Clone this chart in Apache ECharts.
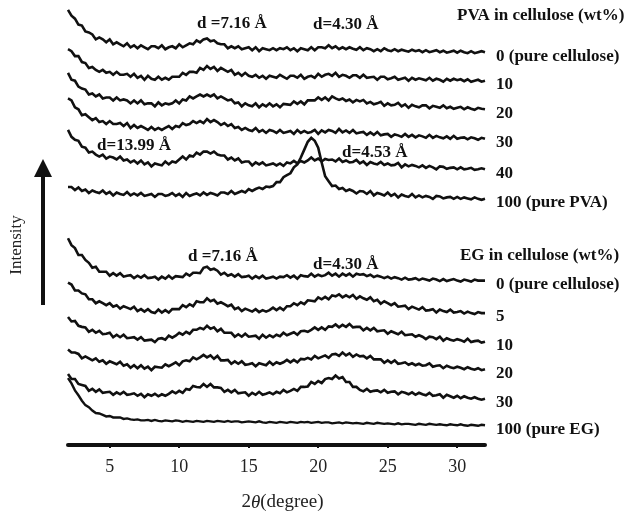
<!DOCTYPE html>
<html>
<head>
<meta charset="utf-8">
<script src="https://cdn.jsdelivr.net/npm/echarts@6/dist/echarts.min.js"></script>
<style>
  html, body { margin: 0; padding: 0; background: #fff; }
  #chart { width: 643px; height: 517px; }
</style>
</head>
<body>
<div id="chart"></div>
<script>
// 2theta (degree), 0.25 step
const twoTheta = [
  2, 2.25, 2.5, 2.75, 3, 3.25, 3.5, 3.75, 4, 4.25, 4.5, 4.75, 5, 5.25, 5.5, 5.75, 6, 6.25, 6.5, 6.75,
  7, 7.25, 7.5, 7.75, 8, 8.25, 8.5, 8.75, 9, 9.25, 9.5, 9.75, 10, 10.25, 10.5, 10.75, 11, 11.25, 11.5, 11.75,
  12, 12.25, 12.5, 12.75, 13, 13.25, 13.5, 13.75, 14, 14.25, 14.5, 14.75, 15, 15.25, 15.5, 15.75, 16, 16.25, 16.5, 16.75,
  17, 17.25, 17.5, 17.75, 18, 18.25, 18.5, 18.75, 19, 19.25, 19.5, 19.75, 20, 20.25, 20.5, 20.75, 21, 21.25, 21.5, 21.75,
  22, 22.25, 22.5, 22.75, 23, 23.25, 23.5, 23.75, 24, 24.25, 24.5, 24.75, 25, 25.25, 25.5, 25.75, 26, 26.25, 26.5, 26.75,
  27, 27.25, 27.5, 27.75, 28, 28.25, 28.5, 28.75, 29, 29.25, 29.5, 29.75, 30, 30.25, 30.5, 30.75, 31, 31.25, 31.5, 31.75,
  32
];

// PVA in cellulose (wt%) - intensity (a.u.)
const pva0 = [
  43, 37, 34, 28, 27, 21, 20, 18, 13, 15, 13, 10, 13, 8, 10, 8, 6, 9, 5, 7,
  4, 7, 5, 3, 6, 6, 4, 7, 3, 5, 6, 4, 8, 5, 7, 9, 8, 12, 10, 13,
  14, 11, 12, 9, 8, 8, 4, 6, 4, 6, 3, 4, 5, 2, 5, 1, 4, 3, 2, 4,
  2, 4, 3, 5, 2, 4, 1, 4, 3, 2, 5, 2, 5, 5, 4, 7, 4, 6, 3, 5,
  3, 5, 3.5, 2.5, 5, 2, 4, 3, 1, 3, 1, 4, 2, 1, 3, 1, 2.5, 1.5, 0.5, 2.5,
  1, 2, 0, 2, 0, 1, 2, 0, 1.5, -0.5, 0.5, 1.5, -0.5, 1.5, 0, -1, 1, -1, 0, 1,
  0
];
const pva10 = [
  32, 30, 25, 25, 19, 18, 13, 14, 11, 9, 11, 8, 9, 6, 9, 6, 6, 7, 4, 7,
  3, 5, 1, 5, 2, 1, 4, 1, 3, 1, 4, 4, 4, 8, 6, 9, 9, 8, 13, 11,
  15, 12, 14, 10, 13, 11, 9, 11, 6, 8, 5, 8, 5, 4, 6, 3, 5, 2, 5, 4,
  3, 6, 4, 2, 5, 5, 3, 6, 2, 4, 5, 3, 7, 4, 6, 7, 5, 8, 4, 6,
  5, 3, 5.5, 5.5, 3, 6, 3, 3.5, 4, 1, 4, 4, 1.5, 2.5, 4, 1, 2, 3, 0, 3,
  1, 2.5, 1.5, 0.5, 3, 0, 2, 1, -1, 2, 0, 2, 0.5, 1.5, -0.5, 1.5, -1, 0, 1, -1,
  0
];
const pva20 = [
  37, 30, 29, 23, 21, 20, 15, 16, 13, 15, 11, 12, 12, 9, 12, 9, 10, 9, 6, 9,
  6, 9, 5, 6, 6, 3, 7, 4, 6, 5, 6, 9, 6, 10, 9, 13, 11, 13, 15, 13,
  15, 13, 15, 11, 13, 11, 9, 10, 6, 7, 3, 6, 4, 3, 6, 2, 5, 3, 6, 3,
  5, 2, 5.5, 5, 4.5, 8, 5.5, 8, 5, 9, 9, 9, 12, 9.5, 12, 9, 13, 11, 9.5, 11,
  8.5, 10, 7, 9.5, 8, 9.5, 6, 7.5, 5, 6, 7.5, 3.5, 6, 4, 4.5, 6.5, 3, 5, 1.5, 4.5,
  3, 2, 4, 4, 1, 3.5, 2.5, 1.5, 4, 1, 2.5, 0.5, 1.5, 2.5, 0, 2, 0.5, -0.5, 1.5, 0.5,
  0
];
const pva30 = [
  41, 39, 32, 30, 24, 25, 22, 19, 21, 17, 18, 15, 18, 15, 15, 16, 13, 16, 11, 14,
  11, 13, 11, 9, 12, 9, 11, 9, 11, 13, 10, 13, 12, 16, 14, 15, 18, 16, 18, 16,
  20, 17, 19, 17, 14, 16, 13, 15, 11, 12, 9, 11, 9, 8, 11, 7, 9, 6, 9, 8,
  6, 9, 6, 7, 8, 5, 9, 6, 8, 6, 7, 9, 5, 8.5, 6.5, 9, 8, 6, 10, 6.5,
  8.5, 6, 9, 5.5, 6.5, 7, 4, 6.5, 4, 7, 3.5, 4.5, 5, 2, 4.5, 3.5, 2, 5, 2, 4,
  1.5, 3.5, 2.5, 1, 4, 1, 3, 1.5, 0.5, 2.5, 0, 3, 0, 1, 1.5, -0.5, 1.5, 0.5, -1, 1,
  0
];
const pva40 = [
  40, 33, 30, 29, 23, 22, 17, 18, 15, 13, 15, 11, 13, 12, 10, 13, 9, 10, 7, 9,
  6, 9, 5, 7, 3, 6, 5, 4, 8, 5, 8, 7, 10, 13, 10, 14, 13, 17, 15, 18,
  18, 16, 18, 15, 14, 14, 10, 12, 9, 11, 7, 8, 8, 4, 7, 5, 7, 4, 5, 6,
  4, 6, 3.5, 7, 6, 8.5, 6, 8.5, 7, 9, 12, 9, 11, 8, 10.5, 9.5, 10, 8, 11, 7.5,
  9, 7, 7.5, 9.5, 6, 8, 4.5, 7.5, 6, 5, 7.5, 4.5, 6, 4, 4.5, 6.5, 2, 5, 3, 4.5,
  3.5, 2, 4, 1.5, 3.5, 2, 0, 3, 2.5, 0.5, 1.5, 2, 0, 2, 0, 0.5, 1.5, -0.5, 0, 1,
  0
];
const pva100 = [
  12, 12, 9, 11.5, 8, 9.5, 6, 8.5, 7, 6, 8.5, 5, 7, 3.5, 6.5, 5, 4, 7, 3.5, 5.5,
  3.5, 6, 3, 4, 5, 2, 5, 5, 3, 4, 6, 3, 5, 2, 6, 3, 4.5, 5.5, 3.5, 6.5,
  4, 6, 5, 3.5, 6.5, 6.5, 5, 8, 5, 6.5, 8, 6.5, 10, 8, 10, 11.5, 10, 12.5, 12, 13,
  17, 17, 22, 24, 26, 32, 35, 42, 50, 58, 62, 59, 52, 37, 23, 18, 13, 13.5, 10, 11,
  8, 9.5, 8, 5.5, 8, 7.5, 5, 8, 3.5, 6, 5, 3.5, 6.5, 3, 5, 1.5, 4.5, 3, 2, 5,
  1.5, 3.5, 1.5, 3, 2, 0, 3, 2.5, 0.5, 1.5, 2, 0, 2, 0, 1.5, 0.5, -0.5, 1.5, 0, -1,
  0
];

// EG in cellulose (wt%) - intensity (a.u.)
const eg0 = [
  43, 36, 33, 26, 26, 21, 18, 13, 14, 9, 9, 9, 5, 7.5, 5, 7.5, 4, 5, 5.5, 2.5,
  5, 3, 5.5, 2.5, 3, 4, 1, 4, 2, 5, 2, 4.5, 4, 3.5, 7, 5, 8, 8, 7.5, 13,
  14, 11, 12, 10, 6, 8, 5, 6.5, 4, 6.5, 3.5, 4, 5, 2, 4.5, 2.5, 5, 2, 3, 4,
  2, 4, 3.5, 5.5, 3, 5, 2, 5.5, 4.5, 4, 7, 4, 6, 4.5, 5.5, 8, 5, 7, 4, 7,
  5, 7, 4, 7, 6, 6.5, 4.5, 6, 3.5, 5, 4, 2.5, 4, 2, 3.5, 2.5, 1, 3, 1, 1.5,
  2.5, 0.5, 2, 1, 0, 2, 1, -0.5, 1.5, -0.5, 0.5, 1.5, 0, -1, 1, 0, -1, 1, 0, 0,
  0
];
const eg5 = [
  31, 29, 23, 23, 20, 19, 14, 14, 10, 12, 10, 8, 10, 6.5, 8, 4.5, 7, 5.5, 4, 6.5,
  2, 4, 1.5, 4, 1, 0, 3.5, 0.5, 3, 0.5, 4, 4, 4, 8, 6, 9, 7, 12, 11, 11,
  15, 12, 13.5, 9.5, 11, 9, 7, 8.5, 4, 5.5, 2, 4.5, 3, 1.5, 4, 1, 3, 1.5, 3, 5.5,
  3, 5.5, 3, 7, 7, 10, 8, 11, 9, 13, 12.5, 12, 16, 14, 16.5, 14, 18, 17, 19, 16,
  18, 16, 18.5, 14.5, 17, 15, 13.5, 16, 12, 13.5, 9.5, 12, 10, 8, 10, 6.5, 7, 7.5, 4, 6.5,
  5, 3.5, 6, 2.5, 3, 4, 0.5, 3.5, 2, 1, 3.5, 0.5, 1, 2, -0.5, 1.5, 0, -1, 1, 0,
  0
];
const eg10 = [
  25, 20.5, 21, 16, 15, 14.5, 10, 12, 9, 11, 7.5, 8, 9, 4.5, 7, 4.5, 7, 3.5, 4, 4.5,
  2, 4.5, 1, 1.5, 2, -0.5, 3, 3.5, 2, 6, 4, 6, 9, 7, 10, 8, 12, 12, 14, 12.5,
  16, 13, 14.5, 10.5, 13, 9, 9, 9, 5, 7.5, 5, 8, 5, 5.5, 6, 3, 7, 4, 6.5, 4.5,
  7, 5.5, 9, 6.5, 8, 9.5, 7, 10.5, 11, 10, 12, 14.5, 12, 14.5, 12, 15.5, 15, 17.5, 14.5, 17,
  15, 18, 14.5, 15, 15, 11.5, 14, 11.5, 14, 10.5, 11, 11.5, 8, 10.5, 9, 7.5, 10, 6.5, 7, 7.5,
  5, 6.5, 5, 2.5, 5, 4.5, 2.5, 5, 1, 3.5, 2, 1, 2.5, 1.5, 0, 3, -0.5, 0.5, 1, -1,
  0
];
const eg20 = [
  20, 17, 17, 15.5, 11, 13, 11, 9, 11, 7.5, 9, 5.5, 8, 6.5, 5, 7.5, 3.5, 5, 1.5, 4,
  1, 4, 0.5, 2.5, -1, 2.5, 2, 1.5, 5, 3, 5, 7, 4, 8, 9, 8, 12, 10, 12, 14.5,
  12, 14, 10.5, 13.5, 9, 9, 9.5, 5.5, 8, 5.5, 8, 4.5, 5, 6, 3, 6, 5, 4, 7.5, 4.5,
  7, 5.5, 7, 9.5, 7, 9.5, 7, 10.5, 10, 11.5, 10, 13.5, 11, 12.5, 14, 11.5, 15, 15.5, 13.5, 17,
  14, 16, 12.5, 15, 13, 13.5, 11, 13.5, 10, 10, 10, 6.5, 9, 6.5, 9, 5.5, 6, 7, 4.5, 6,
  4, 5.5, 3.5, 4, 6, 2.5, 3.5, 4, 1, 3.5, 2, 1, 2.5, 1.5, 0, 2, 0.5, -0.5, 1, -1,
  0
];
const eg30 = [
  25, 20, 20, 15, 14, 13, 8, 10, 7, 9.5, 6, 6.5, 7, 4, 6.5, 4.5, 7, 4, 4.5, 5.5,
  3, 5, 1.5, 4.5, 3, 5, 2.5, 4.5, 3, 5, 7.5, 5.5, 8, 6, 10, 9, 13, 12, 11.5, 15,
  12, 15, 11.5, 11.5, 11, 7, 9, 6.5, 9, 5.5, 6, 6.5, 3, 6, 4, 7, 4, 5, 6.5, 4.5,
  7, 5.5, 9, 6.5, 8, 10, 8, 12, 12, 12.5, 17, 15, 18, 16, 20, 21, 20, 23.5, 20.5, 22,
  17, 17, 12, 12, 9, 7.5, 10, 7, 8, 8.5, 6.5, 9, 6, 7, 7.5, 4.5, 7, 6, 4.5, 6.5,
  4, 6, 4.5, 3.5, 6, 3, 3.5, 4.5, 1, 4, 2.5, 1, 3, 0.5, 2.5, 1, 0, 1.5, 0, -1,
  0
];
const eg100 = [
  48, 42.5, 35.5, 30.5, 25, 20.5, 18.5, 15, 12.5, 12, 10.5, 9, 9.5, 8, 8, 8, 6.5, 7, 6, 5.5,
  6, 5, 5, 5.5, 4.5, 5.5, 4.5, 4, 5, 4.5, 4, 5, 4.5, 3.5, 4.5, 4, 3.5, 4.5, 4, 3.5,
  4.5, 4, 3.5, 4.5, 4, 3.5, 4.5, 3.5, 4, 4, 3, 3.5, 4, 3.5, 3, 4, 3, 2.5, 3.5, 3,
  2.5, 3.5, 3, 2.5, 3.5, 3, 2.5, 3.5, 3, 3.5, 2.5, 3, 3.5, 2.5, 3, 3, 2, 2.5, 3, 2,
  3, 2.5, 2, 2.5, 2, 1.5, 2.5, 2, 1.5, 2.5, 2, 1.5, 2, 1.5, 1, 2, 1, 1.5, 1.5, 1,
  0.5, 1.5, 1, 0.5, 1.5, 1, 0.5, 1, 0.5, 0, 1, 0.5, 0, 1, 0, -0.5, 0.5, 0, -0.5, 0.5,
  0
];

const curves = [pva0, pva10, pva20, pva30, pva40, pva100, eg0, eg5, eg10, eg20, eg30, eg100];
const curveNames = [
  '0 (pure cellulose)', '10', '20', '30', '40', '100 (pure PVA)',
  '0 (pure cellulose)', '5', '10', '20', '30', '100 (pure EG)'
];
// vertical stacking shift of each pattern (a.u.)
const offsets = [399, 370, 341, 311, 280, 250, 167, 134, 105, 77, 47, 20];
const xTicks = [5, 10, 15, 20, 25, 30];

const serif = '"Liberation Serif", "DejaVu Serif", serif';
const ink = '#111';

const chart = echarts.init(document.getElementById('chart'));

const series = curves.map((vals, k) => ({
  name: curveNames[k],
  type: 'line',
  symbol: 'none',
  animation: false,
  lineStyle: { color: ink, width: k === curves.length - 1 ? 2.4 : 2.6, join: 'miter' },
  data: twoTheta.map((x, i) => [x, vals[i] + offsets[k]]),
  endLabel: {
    show: true,
    formatter: curveNames[k],
    distance: 11,
    offset: [0, 4],
    color: ink,
    fontFamily: serif,
    fontWeight: 'bold',
    fontSize: 17
  }
}));

function note(text, left, y) {
  return {
    type: 'text',
    left: left,
    top: y - 10,
    style: { text: text, fill: ink, font: 'bold 17px ' + serif }
  };
}

const option = {
  backgroundColor: '#fff',
  animation: false,
  grid: { left: 68, right: 158, top: 0, bottom: 65 },
  xAxis: {
    type: 'value',
    min: 2,
    max: 32,
    splitLine: { show: false },
    axisLine: { lineStyle: { color: ink, width: 4 } },
    axisTick: { show: true, length: 3, lineStyle: { color: ink, width: 2 } },
    axisLabel: {
      margin: 13,
      color: '#222',
      fontFamily: serif,
      fontSize: 18,
      showMinLabel: false,
      showMaxLabel: false,
      formatter: (v) => (xTicks.indexOf(v) >= 0 ? String(v) : '')
    },
    name: '2{i|θ}(degree)',
    nameLocation: 'middle',
    nameGap: 48,
    nameTextStyle: {
      color: '#222',
      fontFamily: serif,
      fontSize: 19,
      padding: [0, 0, 0, 12],
      rich: { i: { fontStyle: 'italic', fontFamily: serif, fontSize: 19, color: '#222' } }
    }
  },
  yAxis: {
    type: 'value',
    min: 0,
    max: 452,
    show: false
  },
  graphic: [
    note('PVA in cellulose (wt%)', 457, 17),
    note('d =7.16 Å', 197, 25),
    note('d=4.30 Å', 313, 26),
    note('d=13.99 Å', 97, 147),
    note('d=4.53 Å', 342, 154),
    note('EG in cellulose (wt%)', 460, 257),
    note('d =7.16 Å', 188, 258),
    note('d=4.30 Å', 313, 266),
    {
      type: 'text',
      x: 17,
      y: 245,
      rotation: Math.PI / 2,
      style: {
        text: 'Intensity',
        fill: '#222',
        font: '17px ' + serif,
        align: 'center',
        verticalAlign: 'middle'
      }
    },
    {
      type: 'line',
      shape: { x1: 43, y1: 305, x2: 43, y2: 174 },
      style: { stroke: ink, lineWidth: 4 }
    },
    {
      type: 'polygon',
      shape: { points: [[34, 177], [52, 177], [43, 159]] },
      style: { fill: ink }
    }
  ],
  series: series
};

chart.setOption(option);
</script>
</body>
</html>
